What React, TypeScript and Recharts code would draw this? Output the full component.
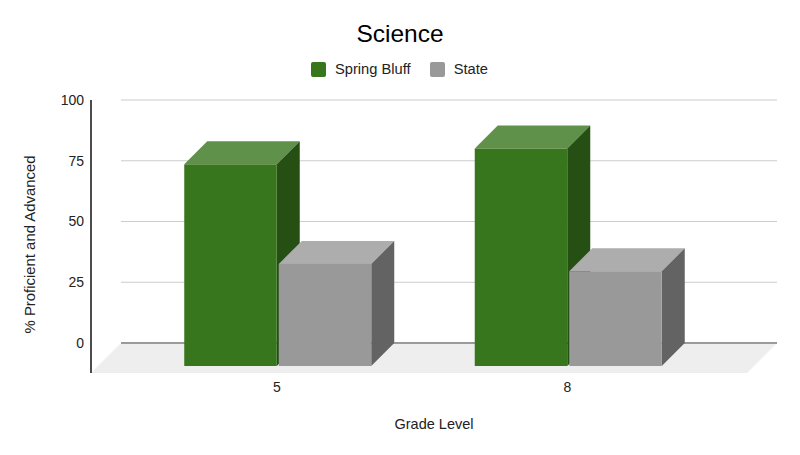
import { Bar, BarChart, CartesianGrid, Legend, XAxis, YAxis, usePlotArea } from "recharts"

const grades = ["5", "8"]
const springBluff = [83, 89.5]
const state = [42, 39]
const yTicks = [0, 25, 50, 75, 100]

const data = grades.map((grade, i) => ({
  grade,
  springBluff: springBluff[i],
  state: state[i],
}))

const FONT = "'Liberation Sans', Arial, sans-serif"
const DEPTH = 23

// fake 3d box, the library gives the back face and we push the front one down/left
function Box3D(props: any) {
  const { x, y, width, height, fill, topFill, sideFill } = props
  const fx = x - DEPTH
  const fy = y + DEPTH
  return (
    <g>
      <polygon
        points={`${fx},${fy} ${x},${y} ${x + width},${y} ${fx + width},${fy}`}
        fill={topFill}
      />
      <polygon
        points={`${fx + width},${fy} ${x + width},${y} ${x + width},${y + height} ${fx + width},${fy + height}`}
        fill={sideFill}
      />
      <rect x={fx} y={fy} width={width} height={height} fill={fill} />
    </g>
  )
}

function Floor() {
  const plot = usePlotArea()
  if (!plot) return null
  const left = plot.x
  const right = plot.x + plot.width
  const back = plot.y + plot.height
  return (
    <g>
      <polygon
        points={`${left},${back} ${right},${back} ${right - 30},${back + 30} ${left - 30},${back + 30}`}
        fill="#eeeeee"
      />
      <line x1={left} x2={right} y1={back} y2={back} stroke="#7f7f7f" strokeWidth={1.5} />
      <line x1={left - 30} x2={left - 30} y1={plot.y} y2={back + 30} stroke="#111111" strokeWidth={1.5} />
    </g>
  )
}

function GradeTick({ x, y, payload }: any) {
  return (
    <text x={x - DEPTH - 0.5} y={y + 41} textAnchor="middle" fontSize={14} fontFamily={FONT} fill="#222222">
      {payload.value}
    </text>
  )
}

function LegendRow({ payload }: any) {
  return (
    <div style={{ display: "flex", alignItems: "center", fontFamily: FONT, fontSize: 14.7, color: "#222222", whiteSpace: "nowrap" }}>
      {payload.map((item: any) => (
        <div key={item.value} style={{ display: "flex", alignItems: "center", marginRight: 19 }}>
          <span
            style={{
              width: 15,
              height: 15,
              borderRadius: 2,
              background: item.color,
              marginRight: 9,
              display: "inline-block",
            }}
          />
          {item.value}
        </div>
      ))}
    </div>
  )
}

export default function App() {
  return (
    <div style={{ position: "absolute", left: 0, top: 0, width: 800, height: 455, background: "#fff" }}>
      <BarChart
        width={800}
        height={455}
        data={data}
        margin={{ top: 100, right: 23, left: 0, bottom: 0 }}
        barSize={92.5}
        barGap={2}
      >
        <text x={400} y={42} textAnchor="middle" fontSize={24.5} fontFamily={FONT} fill="#000000">
          Science
        </text>
        <CartesianGrid vertical={false} stroke="#cccccc" />
        <Floor />
        <XAxis
          dataKey="grade"
          axisLine={false}
          tickLine={false}
          height={112}
          padding={{ left: 34.25, right: 40.75 }}
          tick={<GradeTick />}
          label={{
            value: "Grade Level",
            position: "insideBottom",
            offset: 26,
            dx: -15,
            fontSize: 14.5,
            fontFamily: FONT,
            fill: "#222222",
          }}
        />
        <YAxis
          width={121}
          domain={[0, 100]}
          ticks={yTicks}
          axisLine={false}
          tickLine={false}
          tickMargin={31}
          tick={{ fontSize: 14, fontFamily: FONT, fill: "#222222" }}
          label={{
            value: "% Proficient and Advanced",
            angle: -90,
            position: "insideLeft",
            offset: 30,
            dy: 23,
            textAnchor: "middle",
            fontSize: 14.9,
            fontFamily: FONT,
            fill: "#222222",
          }}
        />
        <Legend
          content={<LegendRow />}
          wrapperStyle={{ position: "absolute", left: 311, top: 61, width: 0, height: 0, overflow: "visible" }}
        />
        <Bar
          dataKey="springBluff"
          name="Spring Bluff"
          fill="#38761d"
          isAnimationActive={false}
          shape={<Box3D topFill="#60914b" sideFill="#254f13" />}
        />
        <Bar
          dataKey="state"
          name="State"
          fill="#999999"
          isAnimationActive={false}
          shape={<Box3D topFill="#adadad" sideFill="#636363" />}
        />
      </BarChart>
    </div>
  )
}
